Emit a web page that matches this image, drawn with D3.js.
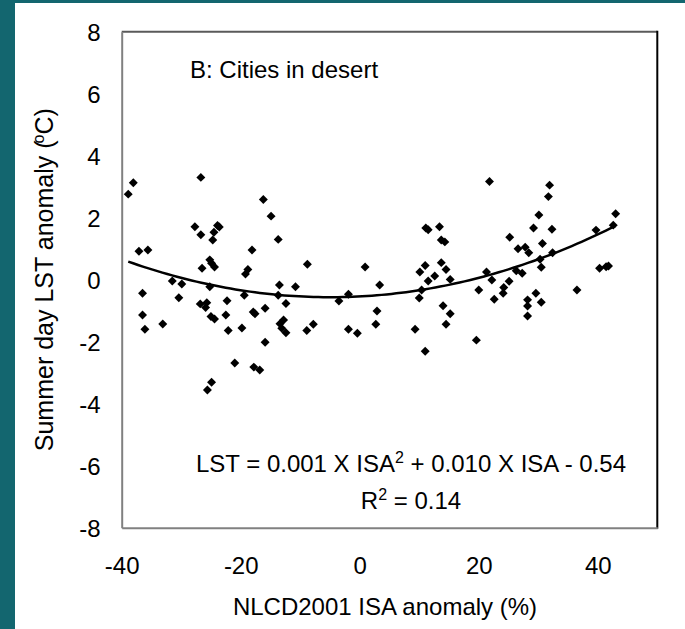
<!DOCTYPE html>
<html>
<head>
<meta charset="utf-8">
<script src="https://cdn.jsdelivr.net/npm/d3@7/dist/d3.min.js"></script>
<style>
  html, body { margin: 0; padding: 0; background: #ffffff; }
  svg { display: block; font-family: "Liberation Sans", Arial, sans-serif; }
</style>
</head>
<body>
<svg id="chart" width="685" height="629"></svg>
<script>
// ISA anomaly (%) and summer daytime LST anomaly (°C) for desert cities
const isa = [
  -38.05, -38.9, -26.7, -16.2, -14.9, -27.7, -26.7, -23.9, -23.6, -24.5,
  -24.7, -13.7, -37.1, -35.6, -18.1, -25.2, -24.9, -24.4, -26.5, -18.8,
  -19.2, -8.8, -31.5, -29.9, -25.2, -36.5, -30.4, -19.4, -13.5, -10.8,
  -13.7, -26.8, -25.7, -25.9, -22.3, -12.4, -15.9, -17.9, -17.6, -36.5,
  -22.5, -25.0, -24.4, -33.1, -12.8, -13.4, -13.1, -12.4, -36.1, -22.1,
  -19.8, -8.9, -15.9, -21.0, -17.8, -16.8, -24.9, -25.6,
  -7.8, 0.9, -3.5, -1.9, 3.35, 2.9, 2.7, -1.9, -0.4, 9.3,
  11.0, 10.0, 10.4, 11.5, 12.6, 10.1, 11.0, 11.1, 11.5, 13.4,
  13.7, 14.3, 13.7, 14.5, 15.2, 14.0, 15.2, 14.5, 19.6, 20.0,
  21.3, 22.2, 21.8, 22.6, 24.2, 24.1, 25.1, 25.2, 26.6, 26.3,
  27.3, 27.8, 28.4, 28.2, 28.2, 28.2, 29.6, 30.5, 29.2, 30.1,
  31.9, 31.7, 32.3, 30.7, 30.3, 30.5, 32.4, 36.5, 39.7, 40.3,
  41.4, 41.8, 42.6, 43.0
];
const lst = [
  3.13, 2.76, 3.30, 2.59, 2.05, 1.71, 1.45, 1.75, 1.70, 1.53,
  1.28, 1.30, 0.92, 0.96, 0.96, 0.64, 0.53, 0.41, 0.37, 0.33,
  0.18, 0.50, -0.04, -0.14, -0.23, -0.44, -0.58, -0.50, -0.17, -0.23,
  -0.50, -0.78, -0.74, -0.90, -0.68, -0.77, -0.92, -1.04, -1.10, -1.14,
  -1.14, -1.19, -1.27, -1.43, -1.30, -1.42, -1.57, -1.71, -1.60, -1.64,
  -1.56, -1.64, -2.02, -2.69, -2.82, -2.91, -3.31, -3.56,
  -1.44, 0.41, -0.69, -0.47, -0.17, -1.01, -1.44, -1.60, -1.73, -1.60,
  -2.31, -0.59, -0.33, -0.04, 0.12, 0.25, 0.46, 1.67, 1.61, 1.71,
  1.28, 1.22, 0.55, 0.33, 0.01, -0.84, -1.10, -1.44, -1.95, -0.33,
  0.25, -0.01, 3.17, -0.63, -0.25, -0.44, -0.05, 1.37, 1.00, 0.29,
  0.21, 1.05, 0.87, -0.65, -0.85, -1.17, -0.44, -0.73, 1.67, 2.09,
  3.05, 2.68, 1.63, 1.17, 0.66, 0.40, 0.87, -0.33, 1.60, 0.37,
  0.42, 0.44, 1.76, 2.13
];

// Axis ticks
const xTicks = [-40, -20, 0, 20, 40];
const yTicks = [-8, -6, -4, -2, 0, 2, 4, 6, 8];

// Quadratic trend: LST = a*ISA^2 + b*ISA + c
const trendCoef = [0.001, 0.010, -0.54];
const rSquared = 0.14;

const svg = d3.select("#chart");
const W = 685, H = 629;
const FONT = "Liberation Sans, Arial, sans-serif";

svg.append("rect").attr("width", W).attr("height", H).attr("fill", "#ffffff");
// Slide frame
svg.append("rect").attr("x", 0).attr("y", 0).attr("width", 15).attr("height", H).attr("fill", "#13666f");
svg.append("rect").attr("x", 0).attr("y", 0).attr("width", W).attr("height", 3).attr("fill", "#13666f");

const plot = { left: 121.7, right: 657.3, top: 31.7, bottom: 527.7 };

const x = d3.scaleLinear().domain([-40, 50]).range([plot.left, plot.right]);
const y = d3.scaleLinear().domain([-8, 8]).range([plot.bottom, plot.top]);

// Plot-area border
svg.append("line").attr("x1", plot.left).attr("x2", plot.right).attr("y1", plot.top).attr("y2", plot.top)
  .attr("stroke", "#5a5a5a").attr("stroke-width", 2);
svg.append("line").attr("x1", plot.right).attr("x2", plot.right).attr("y1", plot.top - 1).attr("y2", plot.bottom + 1)
  .attr("stroke", "#000000").attr("stroke-width", 2);

// Axes (labels only, no tick marks); plain hyphen for negatives
const fmt = d => String(d);
const xAxis = d3.axisBottom(x).tickValues(xTicks).tickSize(0).tickPadding(0).tickFormat(fmt);
const yAxis = d3.axisLeft(y).tickValues(yTicks).tickSize(0).tickPadding(0).tickFormat(fmt);

const gx = svg.append("g").attr("transform", `translate(0,${plot.bottom})`).call(xAxis);
gx.select(".domain").attr("stroke", "#808080").attr("stroke-width", 2);
gx.selectAll(".tick text")
  .attr("y", 46).attr("dy", null)
  .attr("font-size", 24).attr("font-family", FONT).attr("fill", "#000");

const gy = svg.append("g").attr("transform", `translate(${plot.left},0)`).call(yAxis);
gy.select(".domain").attr("stroke", "#808080").attr("stroke-width", 2);
gy.selectAll(".tick text")
  .attr("x", -21).attr("dy", "0.35em")
  .attr("font-size", 24).attr("font-family", FONT).attr("fill", "#000");

// Trend curve
const trend = x0 => trendCoef[0] * x0 * x0 + trendCoef[1] * x0 + trendCoef[2];
const xMin = d3.min(isa), xMax = d3.max(isa);
const curve = d3.range(0, 101).map(i => {
  const xv = xMin + (xMax - xMin) * i / 100;
  return [xv, trend(xv)];
});
svg.append("path")
  .datum(curve)
  .attr("fill", "none")
  .attr("stroke", "#000")
  .attr("stroke-width", 2.5)
  .attr("d", d3.line().x(d => x(d[0])).y(d => y(d[1])));

// Points as diamond markers
const diamond = d3.symbol().type(d3.symbolSquare).size(40);
svg.append("g").selectAll("path")
  .data(isa.map((v, i) => [v, lst[i]]))
  .join("path")
  .attr("d", diamond)
  .attr("transform", d => `translate(${x(d[0])},${y(d[1])}) rotate(45)`)
  .attr("fill", "#000");

// Panel label
svg.append("text").attr("x", 190).attr("y", 78)
  .attr("font-size", 24).attr("fill", "#000").text("B: Cities in desert");

// Equation and R²
const eq = svg.append("text").attr("x", 411).attr("y", 472)
  .attr("text-anchor", "middle").attr("font-size", 24).attr("fill", "#000");
eq.append("tspan").text(`LST = ${trendCoef[0].toFixed(3)} X ISA`);
eq.append("tspan").attr("font-size", 16).attr("dy", -9).text("2");
eq.append("tspan").attr("dy", 9).text(` + ${trendCoef[1].toFixed(3)} X ISA - ${Math.abs(trendCoef[2]).toFixed(2)}`);

const r2 = svg.append("text").attr("x", 411).attr("y", 509)
  .attr("text-anchor", "middle").attr("font-size", 24).attr("fill", "#000");
r2.append("tspan").text("R");
r2.append("tspan").attr("font-size", 16).attr("dy", -9).text("2");
r2.append("tspan").attr("dy", 9).text(` = ${rSquared.toFixed(2)}`);

// Axis titles
svg.append("text").attr("x", 385).attr("y", 615)
  .attr("text-anchor", "middle").attr("font-size", 24).attr("fill", "#000")
  .text("NLCD2001 ISA anomaly (%)");

const yt = svg.append("text")
  .attr("transform", `translate(53,${(plot.top + plot.bottom) / 2}) rotate(-90)`)
  .attr("text-anchor", "middle").attr("font-size", 25).attr("fill", "#000");
yt.append("tspan").text("Summer day LST anomaly (");
yt.append("tspan").attr("font-size", 16).attr("dy", -9).attr("dx", -3).text("o");
yt.append("tspan").attr("dy", 9).text("C)");
</script>
</body>
</html>
